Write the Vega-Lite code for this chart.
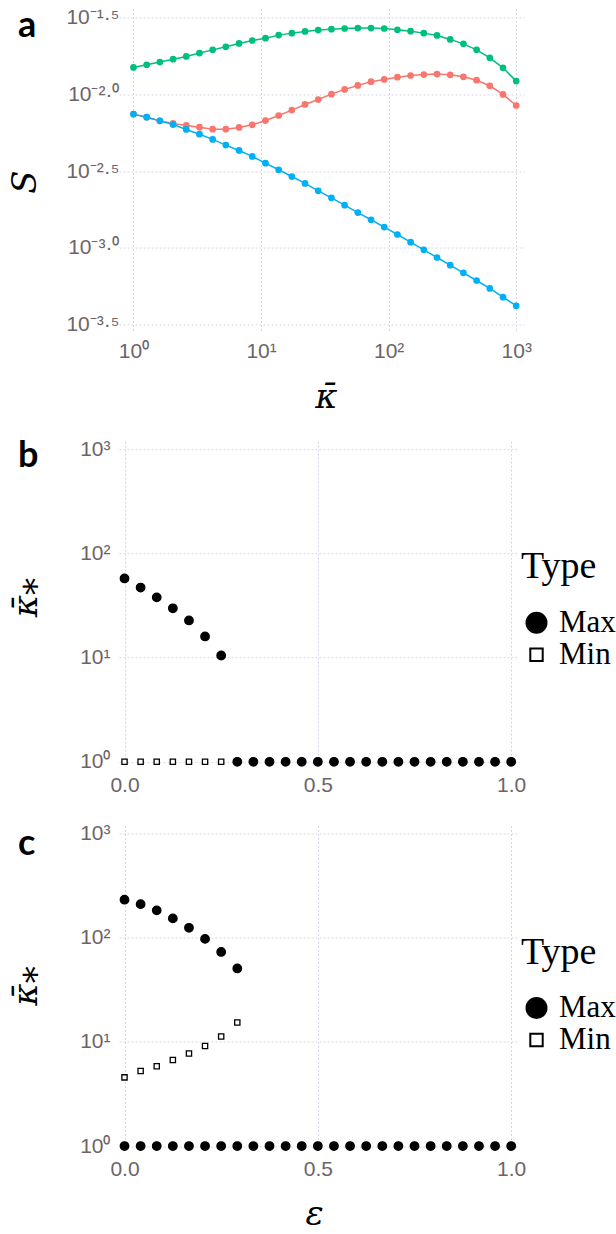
{
  "$schema": "https://vega.github.io/schema/vega-lite/v6.json",
  "background": "white",
  "padding": {"left": 8, "top": 6.5, "right": 0, "bottom": 0},
  "bounds": "flush",
  "spacing": 108.7,
  "config": {
    "view": {"stroke": null},
    "axis": {"domain": false, "ticks": false, "grid": true, "gridColor": "#d8d6ea", "gridDash": [2, 2], "gridWidth": 1, "labelFont": "Liberation Sans", "labelFontSize": 21, "labelColor": "#6e6468", "titleFont": "DejaVu Serif", "titleFontStyle": "italic", "titleFontWeight": "normal", "titleFontSize": 34, "titleColor": "#000000"},
    "legend": {"titleFont": "Liberation Serif", "titleFontSize": 38, "titleFontWeight": "normal", "titleColor": "#000000", "labelFont": "Liberation Serif", "labelFontSize": 31, "labelColor": "#000000", "symbolSize": 400, "symbolStrokeWidth": 2, "symbolStrokeColor": "#000000", "labelOffset": 7, "rowPadding": 0, "titlePadding": 21, "padding": 0},
    "title": {"font": "Lato", "fontSize": 36, "fontWeight": "bold", "color": "#000000", "anchor": "start", "frame": "group", "baseline": "alphabetic", "offset": 0}
  },
  "datasets": {
    "curves": [
      {"kappa": 1, "S": 0.007447, "series": "red"},
      {"kappa": 1.269, "S": 0.007112, "series": "red"},
      {"kappa": 1.610, "S": 0.006730, "series": "red"},
      {"kappa": 2.043, "S": 0.006471, "series": "red"},
      {"kappa": 2.593, "S": 0.006281, "series": "red"},
      {"kappa": 3.290, "S": 0.006124, "series": "red"},
      {"kappa": 4.175, "S": 0.005943, "series": "red"},
      {"kappa": 5.298, "S": 0.005943, "series": "red"},
      {"kappa": 6.723, "S": 0.006095, "series": "red"},
      {"kappa": 8.532, "S": 0.006339, "series": "red"},
      {"kappa": 10.83, "S": 0.006761, "series": "red"},
      {"kappa": 13.74, "S": 0.007295, "series": "red"},
      {"kappa": 17.43, "S": 0.007907, "series": "red"},
      {"kappa": 22.12, "S": 0.008610, "series": "red"},
      {"kappa": 28.07, "S": 0.009268, "series": "red"},
      {"kappa": 35.62, "S": 0.01005, "series": "red"},
      {"kappa": 45.20, "S": 0.01079, "series": "red"},
      {"kappa": 57.36, "S": 0.01146, "series": "red"},
      {"kappa": 72.79, "S": 0.01211, "series": "red"},
      {"kappa": 92.37, "S": 0.01253, "series": "red"},
      {"kappa": 117.2, "S": 0.01297, "series": "red"},
      {"kappa": 148.7, "S": 0.01330, "series": "red"},
      {"kappa": 188.7, "S": 0.01349, "series": "red"},
      {"kappa": 239.5, "S": 0.01358, "series": "red"},
      {"kappa": 303.9, "S": 0.01343, "series": "red"},
      {"kappa": 385.7, "S": 0.01303, "series": "red"},
      {"kappa": 489.4, "S": 0.01239, "series": "red"},
      {"kappa": 621.0, "S": 0.01140, "series": "red"},
      {"kappa": 788.0, "S": 0.01000, "series": "red"},
      {"kappa": 1000, "S": 0.008472, "series": "red"},
      {"kappa": 1, "S": 0.01500, "series": "green"},
      {"kappa": 1.269, "S": 0.01563, "series": "green"},
      {"kappa": 1.610, "S": 0.01626, "series": "green"},
      {"kappa": 2.043, "S": 0.01698, "series": "green"},
      {"kappa": 2.593, "S": 0.01770, "series": "green"},
      {"kappa": 3.290, "S": 0.01862, "series": "green"},
      {"kappa": 4.175, "S": 0.01954, "series": "green"},
      {"kappa": 5.298, "S": 0.02046, "series": "green"},
      {"kappa": 6.723, "S": 0.02153, "series": "green"},
      {"kappa": 8.532, "S": 0.02249, "series": "green"},
      {"kappa": 10.83, "S": 0.02328, "series": "green"},
      {"kappa": 13.74, "S": 0.02438, "series": "green"},
      {"kappa": 17.43, "S": 0.02512, "series": "green"},
      {"kappa": 22.12, "S": 0.02576, "series": "green"},
      {"kappa": 28.07, "S": 0.02630, "series": "green"},
      {"kappa": 35.62, "S": 0.02667, "series": "green"},
      {"kappa": 45.20, "S": 0.02692, "series": "green"},
      {"kappa": 57.36, "S": 0.02710, "series": "green"},
      {"kappa": 72.79, "S": 0.02710, "series": "green"},
      {"kappa": 92.37, "S": 0.02692, "series": "green"},
      {"kappa": 117.2, "S": 0.02642, "series": "green"},
      {"kappa": 148.7, "S": 0.02588, "series": "green"},
      {"kappa": 188.7, "S": 0.02512, "series": "green"},
      {"kappa": 239.5, "S": 0.02427, "series": "green"},
      {"kappa": 303.9, "S": 0.02286, "series": "green"},
      {"kappa": 385.7, "S": 0.02138, "series": "green"},
      {"kappa": 489.4, "S": 0.01954, "series": "green"},
      {"kappa": 621.0, "S": 0.01734, "series": "green"},
      {"kappa": 788.0, "S": 0.01493, "series": "green"},
      {"kappa": 1000, "S": 0.01222, "series": "green"},
      {"kappa": 1, "S": 0.007447, "series": "blue"},
      {"kappa": 1.269, "S": 0.007112, "series": "blue"},
      {"kappa": 1.610, "S": 0.006730, "series": "blue"},
      {"kappa": 2.043, "S": 0.006368, "series": "blue"},
      {"kappa": 2.593, "S": 0.005916, "series": "blue"},
      {"kappa": 3.290, "S": 0.005508, "series": "blue"},
      {"kappa": 4.175, "S": 0.005093, "series": "blue"},
      {"kappa": 5.298, "S": 0.004677, "series": "blue"},
      {"kappa": 6.723, "S": 0.004315, "series": "blue"},
      {"kappa": 8.532, "S": 0.003945, "series": "blue"},
      {"kappa": 10.83, "S": 0.003565, "series": "blue"},
      {"kappa": 13.74, "S": 0.003228, "series": "blue"},
      {"kappa": 17.43, "S": 0.002917, "series": "blue"},
      {"kappa": 22.12, "S": 0.002630, "series": "blue"},
      {"kappa": 28.07, "S": 0.002355, "series": "blue"},
      {"kappa": 35.62, "S": 0.002118, "series": "blue"},
      {"kappa": 45.20, "S": 0.001897, "series": "blue"},
      {"kappa": 57.36, "S": 0.001698, "series": "blue"},
      {"kappa": 72.79, "S": 0.001524, "series": "blue"},
      {"kappa": 92.37, "S": 0.001365, "series": "blue"},
      {"kappa": 117.2, "S": 0.001222, "series": "blue"},
      {"kappa": 148.7, "S": 0.001089, "series": "blue"},
      {"kappa": 188.7, "S": 0.0009705, "series": "blue"},
      {"kappa": 239.5, "S": 0.0008650, "series": "blue"},
      {"kappa": 303.9, "S": 0.0007709, "series": "blue"},
      {"kappa": 385.7, "S": 0.0006871, "series": "blue"},
      {"kappa": 489.4, "S": 0.0006124, "series": "blue"},
      {"kappa": 621.0, "S": 0.0005433, "series": "blue"},
      {"kappa": 788.0, "S": 0.0004764, "series": "blue"},
      {"kappa": 1000, "S": 0.0004188, "series": "blue"}
    ],
    "kb": [
      {"eps": 0, "kappa": 1, "Type": "Min"},
      {"eps": 0.04167, "kappa": 1, "Type": "Min"},
      {"eps": 0.08333, "kappa": 1, "Type": "Min"},
      {"eps": 0.125, "kappa": 1, "Type": "Min"},
      {"eps": 0.1667, "kappa": 1, "Type": "Min"},
      {"eps": 0.2083, "kappa": 1, "Type": "Min"},
      {"eps": 0.25, "kappa": 1, "Type": "Min"},
      {"eps": 0, "kappa": 57.7, "Type": "Max"},
      {"eps": 0.04167, "kappa": 47.2, "Type": "Max"},
      {"eps": 0.08333, "kappa": 38.0, "Type": "Max"},
      {"eps": 0.125, "kappa": 29.8, "Type": "Max"},
      {"eps": 0.1667, "kappa": 22.8, "Type": "Max"},
      {"eps": 0.2083, "kappa": 16.0, "Type": "Max"},
      {"eps": 0.25, "kappa": 10.5, "Type": "Max"},
      {"eps": 0.2917, "kappa": 1, "Type": "Max"},
      {"eps": 0.3333, "kappa": 1, "Type": "Max"},
      {"eps": 0.375, "kappa": 1, "Type": "Max"},
      {"eps": 0.4167, "kappa": 1, "Type": "Max"},
      {"eps": 0.4583, "kappa": 1, "Type": "Max"},
      {"eps": 0.5, "kappa": 1, "Type": "Max"},
      {"eps": 0.5417, "kappa": 1, "Type": "Max"},
      {"eps": 0.5833, "kappa": 1, "Type": "Max"},
      {"eps": 0.625, "kappa": 1, "Type": "Max"},
      {"eps": 0.6667, "kappa": 1, "Type": "Max"},
      {"eps": 0.7083, "kappa": 1, "Type": "Max"},
      {"eps": 0.75, "kappa": 1, "Type": "Max"},
      {"eps": 0.7917, "kappa": 1, "Type": "Max"},
      {"eps": 0.8333, "kappa": 1, "Type": "Max"},
      {"eps": 0.875, "kappa": 1, "Type": "Max"},
      {"eps": 0.9167, "kappa": 1, "Type": "Max"},
      {"eps": 0.9583, "kappa": 1, "Type": "Max"},
      {"eps": 1, "kappa": 1, "Type": "Max"}
    ],
    "kc": [
      {"eps": 0, "kappa": 4.57, "Type": "Min"},
      {"eps": 0.04167, "kappa": 5.26, "Type": "Min"},
      {"eps": 0.08333, "kappa": 5.84, "Type": "Min"},
      {"eps": 0.125, "kappa": 6.71, "Type": "Min"},
      {"eps": 0.1667, "kappa": 7.74, "Type": "Min"},
      {"eps": 0.2083, "kappa": 9.17, "Type": "Min"},
      {"eps": 0.25, "kappa": 11.3, "Type": "Min"},
      {"eps": 0.2917, "kappa": 15.4, "Type": "Min"},
      {"eps": 0, "kappa": 233, "Type": "Max"},
      {"eps": 0.04167, "kappa": 211, "Type": "Max"},
      {"eps": 0.08333, "kappa": 184, "Type": "Max"},
      {"eps": 0.125, "kappa": 154, "Type": "Max"},
      {"eps": 0.1667, "kappa": 125, "Type": "Max"},
      {"eps": 0.2083, "kappa": 97.8, "Type": "Max"},
      {"eps": 0.25, "kappa": 73.3, "Type": "Max"},
      {"eps": 0.2917, "kappa": 50.9, "Type": "Max"},
      {"eps": 0, "kappa": 1, "Type": "Max"},
      {"eps": 0.04167, "kappa": 1, "Type": "Max"},
      {"eps": 0.08333, "kappa": 1, "Type": "Max"},
      {"eps": 0.125, "kappa": 1, "Type": "Max"},
      {"eps": 0.1667, "kappa": 1, "Type": "Max"},
      {"eps": 0.2083, "kappa": 1, "Type": "Max"},
      {"eps": 0.25, "kappa": 1, "Type": "Max"},
      {"eps": 0.2917, "kappa": 1, "Type": "Max"},
      {"eps": 0.3333, "kappa": 1, "Type": "Max"},
      {"eps": 0.375, "kappa": 1, "Type": "Max"},
      {"eps": 0.4167, "kappa": 1, "Type": "Max"},
      {"eps": 0.4583, "kappa": 1, "Type": "Max"},
      {"eps": 0.5, "kappa": 1, "Type": "Max"},
      {"eps": 0.5417, "kappa": 1, "Type": "Max"},
      {"eps": 0.5833, "kappa": 1, "Type": "Max"},
      {"eps": 0.625, "kappa": 1, "Type": "Max"},
      {"eps": 0.6667, "kappa": 1, "Type": "Max"},
      {"eps": 0.7083, "kappa": 1, "Type": "Max"},
      {"eps": 0.75, "kappa": 1, "Type": "Max"},
      {"eps": 0.7917, "kappa": 1, "Type": "Max"},
      {"eps": 0.8333, "kappa": 1, "Type": "Max"},
      {"eps": 0.875, "kappa": 1, "Type": "Max"},
      {"eps": 0.9167, "kappa": 1, "Type": "Max"},
      {"eps": 0.9583, "kappa": 1, "Type": "Max"},
      {"eps": 1, "kappa": 1, "Type": "Max"}
    ]
  },
  "resolve": {"scale": {"shape": "independent", "fill": "independent", "stroke": "independent", "color": "independent"}, "legend": {"shape": "independent", "fill": "independent", "stroke": "independent", "color": "independent"}},
  "vconcat": [
    {
      "width": 405,
      "height": 324,
      "title": {"text": "a", "dx": -101, "dy": 42},
      "data": {"name": "curves"},
      "encoding": {
        "x": {"field": "kappa", "type": "quantitative", "scale": {"type": "log", "domain": [0.77, 1151], "nice": false}, "axis": {"values": [1, 10, 100, 1000], "labelExpr": "datum.value < 5 ? '10⁰' : datum.value < 50 ? '10¹' : datum.value < 500 ? '10²' : '10³'", "labelPadding": 8, "title": "κ̄", "titleX": 207, "titleY": 75, "titleBaseline": "alphabetic", "titleAlign": "center", "titleAngle": 0}},
        "y": {"field": "S", "type": "quantitative", "scale": {"type": "log", "domain": [0.0002805, 0.03636], "nice": false}, "axis": {"values": [0.000316228, 0.001, 0.00316228, 0.01, 0.0316228], "labelExpr": "datum.value > 0.02 ? '10⁻¹·⁵' : datum.value > 0.006 ? '10⁻²·⁰' : datum.value > 0.002 ? '10⁻²·⁵' : datum.value > 0.0006 ? '10⁻³·⁰' : '10⁻³·⁵'", "labelPadding": 0, "title": "S", "titleX": -94, "titleY": 173, "titleAngle": -90, "titleAlign": "center", "titleBaseline": "middle"}},
        "color": {"field": "series", "type": "nominal", "scale": {"domain": ["red", "green", "blue"], "range": ["#F8766D", "#00BF7D", "#00B0F6"]}, "legend": null}
      },
      "layer": [
        {"mark": {"type": "line", "strokeWidth": 1.5}, "encoding": {}},
        {"mark": {"type": "circle", "size": 45, "opacity": 1}, "encoding": {}}
      ]
    },
    {
      "spacing": 59.3,
      "bounds": "flush",
      "resolve": {"scale": {"shape": "independent", "fill": "independent", "stroke": "independent"}, "legend": {"shape": "independent", "fill": "independent", "stroke": "independent"}},
      "vconcat": [
        {
          "width": 400,
          "height": 325,
          "title": {"text": "b", "dx": -101, "dy": 40},
          "data": {"name": "kb"},
          "mark": {"type": "point", "size": 72, "opacity": 1, "filled": true, "strokeWidth": 1.3},
          "encoding": {
            "x": {"field": "eps", "type": "quantitative", "scale": {"domain": [-0.01424, 1.0202], "nice": false, "zero": false}, "axis": {"values": [0, 0.5, 1], "format": ".1f", "labelPadding": 8, "title": null}},
            "y": {"field": "kappa", "type": "quantitative", "scale": {"type": "log", "domain": [0.9068, 1202], "nice": false}, "axis": {"values": [1, 10, 100, 1000], "labelExpr": "datum.value < 5 ? '10⁰' : datum.value < 50 ? '10¹' : datum.value < 500 ? '10²' : '10³'", "labelPadding": 9, "title": "κ̄⁎", "titleX": -93, "titleY": 156, "titleAngle": -90, "titleAlign": "center", "titleBaseline": "middle"}},
            "shape": {"field": "Type", "type": "nominal", "scale": {"domain": ["Max", "Min"], "range": ["circle", "M-0.62,-0.62H0.62V0.62H-0.62Z"]}, "legend": {"orient": "none", "legendX": 402, "legendY": 107, "encode": {"symbols": {"update": {"strokeWidth": {"value": 2}}}}}},
            "fill": {"field": "Type", "type": "nominal", "scale": {"domain": ["Max", "Min"], "range": ["#000000", "#ffffff"]}, "legend": {"orient": "none", "legendX": 402, "legendY": 107, "encode": {"symbols": {"update": {"strokeWidth": {"value": 2}}}}}},
            "stroke": {"field": "Type", "type": "nominal", "scale": {"domain": ["Max", "Min"], "range": ["#000000", "#000000"]}, "legend": {"orient": "none", "legendX": 402, "legendY": 107, "encode": {"symbols": {"update": {"strokeWidth": {"value": 2}}}}}}
          }
        },
        {
          "width": 400,
          "height": 325,
          "title": {"text": "c", "dx": -101, "dy": 44},
          "data": {"name": "kc"},
          "mark": {"type": "point", "size": 72, "opacity": 1, "filled": true, "strokeWidth": 1.3},
          "encoding": {
            "x": {"field": "eps", "type": "quantitative", "scale": {"domain": [-0.01424, 1.0202], "nice": false, "zero": false}, "axis": {"values": [0, 0.5, 1], "format": ".1f", "labelPadding": 8, "title": "ε", "titleX": 195, "titleY": 74, "titleBaseline": "alphabetic", "titleAlign": "center"}},
            "y": {"field": "kappa", "type": "quantitative", "scale": {"type": "log", "domain": [0.9068, 1202], "nice": false}, "axis": {"values": [1, 10, 100, 1000], "labelExpr": "datum.value < 5 ? '10⁰' : datum.value < 50 ? '10¹' : datum.value < 500 ? '10²' : '10³'", "labelPadding": 9, "title": "κ̄⁎", "titleX": -93, "titleY": 160, "titleAngle": -90, "titleAlign": "center", "titleBaseline": "middle"}},
            "shape": {"field": "Type", "type": "nominal", "scale": {"domain": ["Max", "Min"], "range": ["circle", "M-0.62,-0.62H0.62V0.62H-0.62Z"]}, "legend": {"orient": "none", "legendX": 402, "legendY": 108, "encode": {"symbols": {"update": {"strokeWidth": {"value": 2}}}}}},
            "fill": {"field": "Type", "type": "nominal", "scale": {"domain": ["Max", "Min"], "range": ["#000000", "#ffffff"]}, "legend": {"orient": "none", "legendX": 402, "legendY": 108, "encode": {"symbols": {"update": {"strokeWidth": {"value": 2}}}}}},
            "stroke": {"field": "Type", "type": "nominal", "scale": {"domain": ["Max", "Min"], "range": ["#000000", "#000000"]}, "legend": {"orient": "none", "legendX": 402, "legendY": 108, "encode": {"symbols": {"update": {"strokeWidth": {"value": 2}}}}}}
          }
        }
      ]
    }
  ]
}
